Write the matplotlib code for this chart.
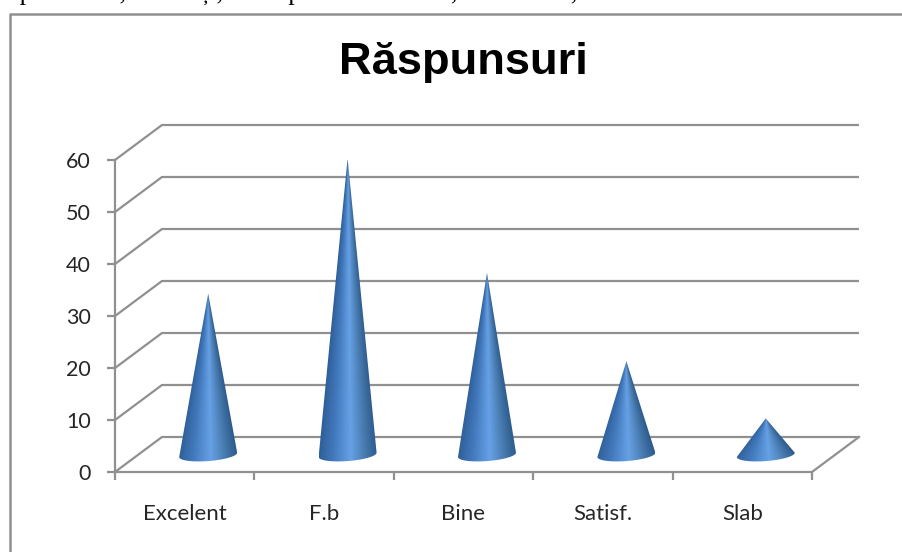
import matplotlib
matplotlib.use('Agg')
import matplotlib.pyplot as plt
from matplotlib.colors import LinearSegmentedColormap
from matplotlib.lines import Line2D
from matplotlib.patches import Polygon
import numpy as np

title = 'Răspunsuri'
categories = ['Excelent', 'F.b', 'Bine', 'Satisf.', 'Slab']
values = [31, 57, 35, 18, 7]
y_ticks = [0, 10, 20, 30, 40, 50, 60]
top_line = 'aprecierile, studenți, la un plan în formare, sau studiu, în mediul lor'

W, H = 903, 552
GRAY = '#909090'
TEXT = '#262626'

# depth of the fake 3d box, in data units
DX = 0.337
DY = 6.73

plt.rcParams['font.family'] = ['Lato', 'DejaVu Sans']

cone_cmap = LinearSegmentedColormap.from_list('cone', [
    (0.0, '#2f5f98'), (0.25, '#4279bd'), (0.55, '#67a1e5'),
    (0.8, '#477aae'), (1.0, '#2e5c8e')])


def draw_box(ax):
    ax.spines['top'].set_visible(False)
    ax.spines['right'].set_visible(False)
    ax.spines['left'].set_color(GRAY)
    ax.spines['bottom'].set_color(GRAY)
    ax.spines['left'].set_linewidth(1.6)
    ax.spines['bottom'].set_linewidth(1.6)
    for v in y_ticks:
        ax.plot([0, DX, 5 + DX], [v, v + DY, v + DY], color=GRAY, lw=1.6,
                clip_on=False, zorder=1, solid_capstyle='butt')
    ax.plot([5, 5 + DX], [0, DY], color=GRAY, lw=1.6, clip_on=False, zorder=1)


def draw_cone(ax, i, value):
    cx = i + 0.5 + DX / 2
    cy = 3.3
    rx = 0.208
    ry = 1.2
    tilt = 0.41
    t = np.linspace(np.pi, 2 * np.pi, 40)
    xs = cx + rx * np.cos(t)
    ys = cy + ry * np.sin(t) + tilt * np.cos(t)
    points = [(cx, value + cy)] + list(zip(xs, ys))
    cone = Polygon(points, closed=True, transform=ax.transData,
                   facecolor='none', edgecolor='none')
    ax.add_patch(cone)
    # shading follows the slope of the cone, so it narrows towards the tip
    bottom = cy - ry - 1
    top = value + cy
    u = np.linspace(-1, 1, 256)
    row = np.linspace(top, bottom, 400)
    scale = np.clip((top - row) / (top - cy), 0.01, None)
    grad = (u[None, :] / scale[:, None] + 1) / 2
    im = ax.imshow(np.clip(grad, 0, 1), cmap=cone_cmap, aspect='auto', zorder=3,
                   extent=[cx - rx, cx + rx, bottom, top], vmin=0, vmax=1,
                   clip_on=True, interpolation='bilinear')
    im.set_clip_path(cone)


fig = plt.figure(figsize=(W / 100, H / 100), dpi=100)
ax = fig.add_axes([115 / W, 1 - 472 / H, (812 - 115) / W, (472 - 160) / H])
ax.patch.set_alpha(0)

draw_box(ax)
for i, value in enumerate(values):
    draw_cone(ax, i, value)

ax.set_xlim(0, 5)
ax.set_ylim(0, 60)
ax.set_yticks(y_ticks)
ax.set_xticks(range(6))
ax.set_xticklabels([])
ax.set_xticks([i + 0.5 for i in range(5)], minor=True)
ax.set_xticklabels(categories, minor=True)
ax.tick_params(axis='x', which='major', length=6, width=1.6, color=GRAY)
ax.tick_params(axis='x', which='minor', length=0, pad=23, labelsize=16, labelcolor=TEXT)
ax.tick_params(axis='y', length=5.5, width=1.6, color=GRAY, pad=12, labelsize=15.5, labelcolor=TEXT)

fig.text(463 / W, 1 - 62 / H, title, family='Liberation Sans', fontweight='bold',
         fontsize=32.6, ha='center', va='center', color='black')

# chart frame runs off the right and bottom of the picture
fig.add_artist(Line2D([10 / W, 10 / W, 1], [0, 1 - 14 / H, 1 - 14 / H], color=GRAY, lw=1.8))
# line of the page above the chart, cut off by the crop
fig.text(8 / W, 1 - 1 / H, top_line, family='Liberation Serif', fontsize=19,
         va='baseline', ha='left', color='black')

fig.savefig('out.png', dpi=100)
